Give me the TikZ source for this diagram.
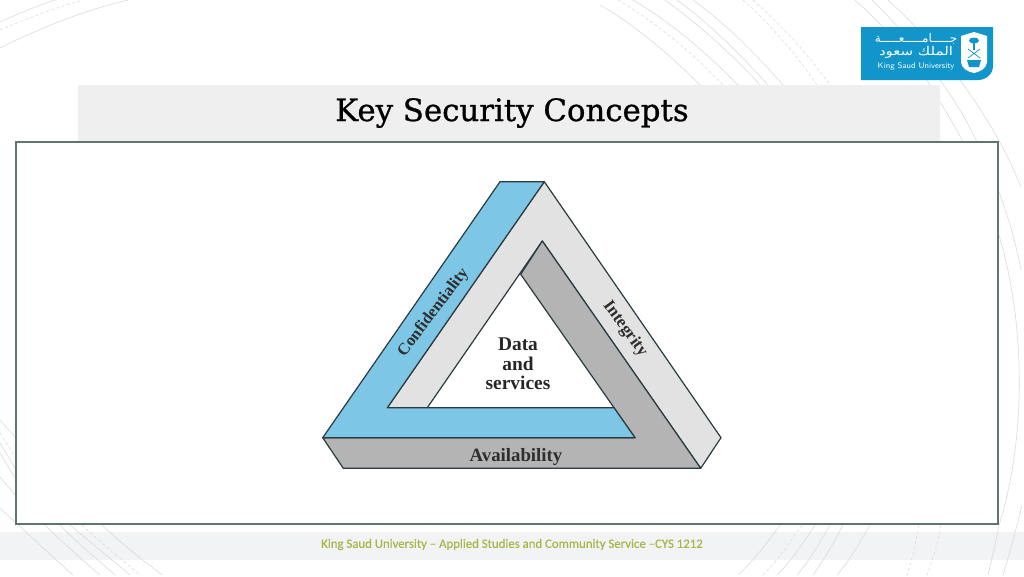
\documentclass[tikz,border=0pt]{standalone}
\usepackage{fontspec}
\setmainfont{Liberation Serif}
\newfontfamily\slabfont[FakeBold=0.8]{DejaVu Serif}
\newfontfamily\footfont[FakeBold=0.25]{Carlito}
\newfontfamily\arabicfont[Script=Arabic]{DejaVu Sans}
\TeXXeTstate=1
\definecolor{bandgrey}{HTML}{EFEFF0}
\definecolor{footgrey}{HTML}{F1F3F4}
\definecolor{framegreen}{HTML}{5F756D}
\definecolor{logoblue}{HTML}{1295CB}
\definecolor{footolive}{HTML}{A9B548}
\definecolor{sideblue}{HTML}{7DC6E6}
\definecolor{sidelight}{HTML}{E2E2E2}
\definecolor{sidedark}{HTML}{B3B4B3}
\definecolor{edgeink}{HTML}{2B3A40}
\definecolor{arcgrey}{HTML}{D9D9D9}
\tikzset{
  x=1pt,y=-1pt,
  arcline/.style={draw=arcgrey,line width=0.55pt},
  arcdash/.style={arcline,dash pattern=on 3pt off 2.5pt},
  side/.style={draw=edgeink,line width=1.2pt,line join=round},
  sidelabel/.style={font=\bfseries\fontsize{#1}{#1}\selectfont,text=black!82,inner sep=0pt},
  corelabel/.style={font=\bfseries\fontsize{19.4}{19.4}\selectfont,text=black!85,inner sep=0pt}
}
\begin{document}
\begin{tikzpicture}
\useasboundingbox (0,0) rectangle (1024,576);
\fill[white] (0,0) rectangle (1024,576);
% footer band
\fill[footgrey] (0,532) rectangle (1024,560);
% background arcs
\draw[arcline] (0,48) .. controls (40,28) and (85,10) .. (128,0);
\draw[arcdash] (0,30) .. controls (28,18) and (55,8) .. (83,0);
\draw[arcline] (0,22) .. controls (18,14) and (36,6) .. (55,0);
\draw[arcline] (600,5) .. controls (635,25) and (670,55) .. (700,85);
\draw[arcdash] (618,0) .. controls (655,22) and (692,52) .. (723,85);
\draw[arcline] (633,0) .. controls (670,22) and (706,52) .. (738,85);
\draw[arcline] (665,0) .. controls (698,24) and (732,54) .. (760,85);
\draw[arcline] (677,0) .. controls (710,24) and (740,54) .. (768,85);
\draw[arcline] (693,0) .. controls (726,24) and (756,54) .. (783,85);
\draw[arcdash] (743,0) .. controls (770,24) and (796,54) .. (817,85);
\draw[arcdash] (753,0) .. controls (780,24) and (808,54) .. (830,85);
\draw[arcline] (855,0) .. controls (890,32) and (920,65) .. (940,102) .. controls (948,115) and (956,128) .. (963,142);
\draw[arcline] (872,0) .. controls (915,42) and (955,95) .. (977,142);
\draw[arcline] (888,0) .. controls (945,52) and (995,122) .. (1021,187);
\draw[arcline] (999,192) .. controls (1008,216) and (1016,243) .. (1021,270);
\draw[arcline] (999,235) .. controls (1026,325) and (1026,440) .. (999,525) .. controls (996,542) and (992,558) .. (988,575);
\draw[arcline] (1022,505) .. controls (1016,530) and (1010,552) .. (1003,575);
\draw[arcline] (780,525) .. controls (768,542) and (754,560) .. (738,575);
\draw[arcdash] (802,525) .. controls (790,542) and (778,560) .. (763,575);
\draw[arcline] (815,525) .. controls (804,542) and (792,560) .. (777,575);
\draw[arcline] (830,525) .. controls (820,542) and (810,560) .. (797,575);
\draw[arcline] (843,525) .. controls (834,542) and (824,560) .. (813,575);
\draw[arcline] (870,525) .. controls (860,542) and (850,560) .. (837,575);
\draw[arcdash] (919,525) .. controls (916,542) and (912,560) .. (907,575);
\draw[arcdash] (941,525) .. controls (938,542) and (933,560) .. (927,575);
\draw[arcline] (0,508) .. controls (24,530) and (48,553) .. (73,575);
\draw[arcline] (45,525) .. controls (62,542) and (80,558) .. (100,575);
\draw[arcline] (60,525) .. controls (76,542) and (96,558) .. (115,575);
\draw[arcline] (70,525) .. controls (90,542) and (110,558) .. (130,575);
\draw[arcdash] (82,525) .. controls (100,542) and (120,558) .. (140,575);
\draw[arcline] (102,525) .. controls (120,542) and (140,558) .. (162,575);
\draw[arcline] (0,420) -- (15,437);
\draw[arcdash] (0,433) -- (15,457);
\draw[arcline] (0,443) -- (15,468);
\draw[arcline] (0,453) -- (15,478);
\draw[arcline] (0,477) -- (15,495);
% title band
\fill[bandgrey] (78,85) rectangle (940,141);
\node[font=\slabfont\fontsize{30.8}{31}\selectfont,text=black,inner sep=0pt] (title) at (512,113) {Key Security Concepts};
% frame
\node[draw=framegreen,fill=white,line width=2.2pt,minimum width=982pt,minimum height=382pt,inner sep=0pt,anchor=center] (frame) at (507,333) {};
% logo
\fill[logoblue] (861,27) -- (993,27) -- (993,66) .. controls (993,74) and (986,80) .. (978,80) -- (861,80) -- cycle;
\node[text=white,font=\arabicfont\fontsize{12}{12}\selectfont,inner sep=0pt] (logoA) at (916,39) {\beginR جـــــامـــــعـــــة\endR};
\node[text=white,font=\arabicfont\fontsize{12}{12}\selectfont,xscale=1.25,inner sep=0pt] (logoB) at (916,52.5) {\beginR الملك سعود\endR};
\node[text=white,font=\sffamily\fontsize{8.2}{8}\selectfont,inner sep=0pt] (logoC) at (916,66.7) {King Saud University};
\fill[white] (961,36) -- (974,32) -- (987,36) -- (987,62) .. controls (987,68) and (980,72) .. (974,73) .. controls (968,72) and (961,68) .. (961,62) -- cycle;
\draw[logoblue,line width=1.1pt] (974,38) -- (974,50);
\fill[logoblue] (974,40.5) ellipse (5 and 3);
\draw[logoblue,line width=.7pt] (968,49) -- (980,58) (980,49) -- (968,58);
\fill[logoblue] (967,60) -- (981,60) -- (979,67) -- (969,67) -- cycle;
% triad
\fill[white] (520.7,274.3) -- (427.3,407.7) -- (614,407.7) -- cycle;
\path[side,fill=sidelight] (544.3,181.7) -- (721,437.7) -- (700.7,468.3) -- (542.3,241) -- (427.3,407.7) -- (387.3,407.7) -- cycle;
\path[side,fill=sidedark] (542.3,241) -- (700.7,468.3) -- (343.3,468.3) -- (322.7,437.7) -- (635,437.7) -- (520.7,274.3) -- cycle;
\path[side,fill=sideblue] (500,181.7) -- (544.3,181.7) -- (387.3,407.7) -- (614,407.7) -- (635,437.7) -- (322.7,437.7) -- cycle;
\node[sidelabel=16.5,rotate=53] (conf) at (433.5,312.5) {Confidentiality};
\node[sidelabel=17,rotate=-54] (integ) at (625,329) {Integrity};
\node[sidelabel=18.8] (avail) at (516,457) {Availability};
\node[corelabel] (core1) at (518,344) {Data};
\node[corelabel] (core2) at (518,364) {and};
\node[corelabel] (core3) at (518,383) {services};
% footer text
\node[font=\footfont\fontsize{12.8}{13}\selectfont,text=footolive,inner sep=0pt] (foot) at (512,544.5) {King Saud University – Applied Studies and Community Service –CYS 1212};
\end{tikzpicture}
\end{document}
